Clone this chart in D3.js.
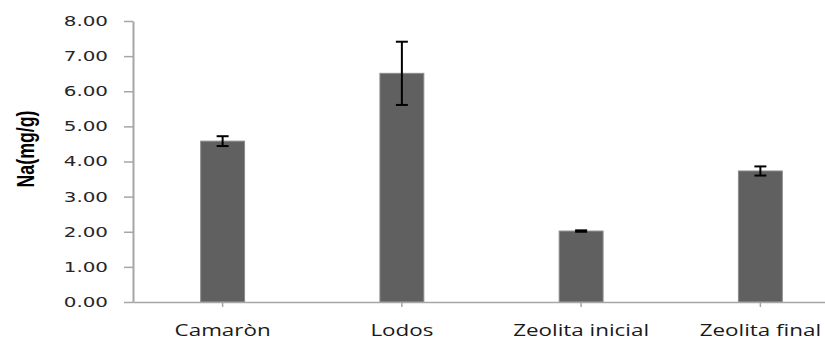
<!DOCTYPE html>
<html>
<head>
<meta charset="utf-8">
<script src="https://cdn.jsdelivr.net/npm/d3@7"></script>
<style>
  html, body { margin: 0; padding: 0; background: #fff; }
  svg { display: block; }
</style>
</head>
<body>
<svg id="chart" width="825" height="340"></svg>
<script>
// Sodium content per sample
const categories = ["Camaròn", "Lodos", "Zeolita inicial", "Zeolita final"];
const values = [4.58, 6.51, 2.02, 3.73];
const errors = [0.14, 0.90, 0.02, 0.13];
const yTicks = [0, 1, 2, 3, 4, 5, 6, 7, 8];
const yLabel = "Na(mg/g)";

const W = 825, H = 340;
const margin = { left: 133, top: 21, bottom: 302, right: 850 };

const svg = d3.select("#chart");

const x = d3.scaleBand()
  .domain(categories)
  .range([margin.left, margin.right])
  .padding(0);

const y = d3.scaleLinear()
  .domain([0, 8])
  .range([margin.bottom, margin.top]);

const barW = x.bandwidth() * 0.245;
const axisColor = "#a6a6a6";

// horizontally widened text
function wideText(g, txt, px, py, sx, attrs) {
  const t = g.append("text")
    .attr("transform", `translate(${px},${py}) scale(${sx},1)`)
    .text(txt);
  Object.entries(attrs).forEach(([k, v]) => t.attr(k, v));
  return t;
}

// bars
svg.append("g").selectAll("rect")
  .data(categories)
  .join("rect")
  .attr("x", (d) => x(d) + x.bandwidth() / 2 - barW / 2)
  .attr("y", (d, i) => y(values[i]))
  .attr("width", barW)
  .attr("height", (d, i) => y(0) - y(values[i]))
  .attr("fill", "#606060")
  .attr("stroke", "#8c8c8c")
  .attr("stroke-width", 1);

// y axis
const yAxis = svg.append("g")
  .attr("transform", `translate(${margin.left},0)`)
  .call(d3.axisLeft(y).tickValues(yTicks).tickSize(9).tickSizeOuter(0).tickFormat(d3.format(".2f")));
yAxis.select(".domain").attr("stroke", axisColor).attr("stroke-width", 2);
yAxis.selectAll(".tick line").attr("stroke", axisColor).attr("stroke-width", 1.5);
yAxis.selectAll(".tick text").remove();

const yLab = svg.append("g");
yTicks.forEach((t) => {
  wideText(yLab, d3.format(".2f")(t), 108, y(t), 1.42, {
    "text-anchor": "end",
    "dominant-baseline": "central",
    "font-family": "DejaVu Sans, Verdana, sans-serif",
    "font-size": "14px",
    "fill": "#262626"
  });
});

// x axis
const xAxis = svg.append("g")
  .attr("transform", `translate(0,${margin.bottom})`)
  .call(d3.axisBottom(x).tickSize(5).tickSizeOuter(0));
xAxis.select(".domain").attr("stroke", axisColor).attr("stroke-width", 1.5);
xAxis.selectAll(".tick line").attr("stroke", axisColor).attr("stroke-width", 1.5);
xAxis.selectAll(".tick text").remove();

const xLab = svg.append("g");
categories.forEach((c) => {
  wideText(xLab, c, x(c) + x.bandwidth() / 2, 336, 1.4, {
    "text-anchor": "middle",
    "font-family": "Open Sans, Noto Sans, sans-serif",
    "font-size": "16px",
    "fill": "#1a1a1a"
  });
});

// error bars
const eb = svg.append("g").attr("stroke", "#000").attr("stroke-width", 2);
const capHalf = 6;
categories.forEach((c, i) => {
  const cx = x(c) + x.bandwidth() / 2;
  const hi = y(values[i] + errors[i]);
  const lo = y(values[i] - errors[i]);
  eb.append("line").attr("x1", cx).attr("x2", cx).attr("y1", hi).attr("y2", lo);
  eb.append("line").attr("x1", cx - capHalf).attr("x2", cx + capHalf).attr("y1", hi).attr("y2", hi);
  eb.append("line").attr("x1", cx - capHalf).attr("x2", cx + capHalf).attr("y1", lo).attr("y2", lo);
});

// y axis title, condensed along its reading direction
svg.append("text")
  .attr("transform", "translate(34,149) rotate(-90) scale(0.74,1)")
  .attr("text-anchor", "middle")
  .attr("font-family", "Liberation Sans, Arial, sans-serif")
  .attr("font-weight", "bold")
  .attr("font-size", "24px")
  .attr("fill", "#000")
  .text(yLabel);
</script>
</body>
</html>
